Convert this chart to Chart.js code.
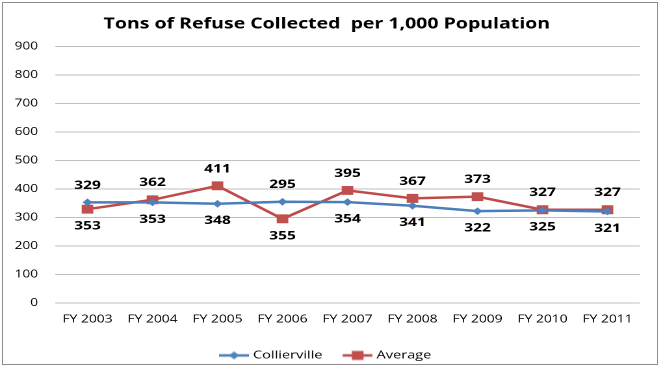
<!DOCTYPE html>
<html>
<head>
<meta charset="utf-8">
<script src="https://cdn.jsdelivr.net/npm/chart.js@4/dist/chart.umd.min.js"></script>
<style>
  html, body { margin: 0; padding: 0; background: #fff; overflow: hidden; width: 660px; height: 366px; }
  #wrap { position: relative; width: 660px; height: 366px; overflow: hidden; }
  #c { position: absolute; left: 0; top: 0; transform: scaleX(1.3); transform-origin: 0 0; }
  #frame { position: absolute; left: 2px; top: 2px; width: 654px; height: 361px; border: 1px solid #8c8c8c; pointer-events: none; }
</style>
</head>
<body>
<div id="wrap">
  <canvas id="c" width="508" height="371"></canvas>
  <div id="frame"></div>
</div>
<script>
const chartTitle = 'Tons of Refuse Collected  per 1,000 Population';
const categories = ['FY 2003', 'FY 2004', 'FY 2005', 'FY 2006', 'FY 2007', 'FY 2008', 'FY 2009', 'FY 2010', 'FY 2011'];
const collierville = [353, 353, 348, 355, 354, 341, 322, 325, 321];
const average = [329, 362, 411, 295, 395, 367, 373, 327, 327];
const yTicks = [0, 100, 200, 300, 400, 500, 600, 700, 800, 900];

const FONT = '"Open Sans", "DejaVu Sans", sans-serif';
const BLUE_LINE = '#4A7EBB', BLUE_MARK = '#4F81BD';
const RED_LINE = '#BE4B48', RED_MARK = '#C0504D';

function legendIcon(lineColor, markColor, style) {
  const cv = document.createElement('canvas');
  cv.width = 23; cv.height = 12;
  const g = cv.getContext('2d');
  g.strokeStyle = lineColor; g.lineWidth = 2.5;
  g.beginPath(); g.moveTo(0, 6); g.lineTo(23, 6); g.stroke();
  g.fillStyle = markColor;
  if (style === 'diamond') {
    g.beginPath(); g.moveTo(11.5, 2); g.lineTo(15.2, 6); g.lineTo(11.5, 10); g.lineTo(7.8, 6); g.closePath(); g.fill();
  } else {
    g.fillRect(7, 1.5, 9, 9);
  }
  return cv;
}
const icons = [legendIcon(BLUE_LINE, BLUE_MARK, 'diamond'), legendIcon(RED_LINE, RED_MARK, 'square')];

const labelPlugin = {
  id: 'pointLabels',
  afterDatasetsDraw(chart) {
    const ctx = chart.ctx;
    const m0 = chart.getDatasetMeta(0), m1 = chart.getDatasetMeta(1);
    ctx.save();
    ctx.font = 'bold 12px ' + FONT;
    ctx.fillStyle = '#000';
    ctx.textAlign = 'center';
    ctx.textBaseline = 'middle';
    categories.forEach((c, i) => {
      const p0 = m0.data[i], p1 = m1.data[i];
      const top = Math.min(p0.y, p1.y), bottom = Math.max(p0.y, p1.y);
      ctx.fillText(String(chart.data.datasets[1].data[i]), p1.x, top - 17);
      ctx.fillText(String(chart.data.datasets[0].data[i]), p0.x, bottom + 17);
    });
    ctx.restore();
  }
};

new Chart(document.getElementById('c'), {
  type: 'line',
  data: {
    labels: categories,
    datasets: [
      { label: 'Collierville', data: collierville, borderColor: BLUE_LINE, backgroundColor: BLUE_MARK,
        borderWidth: 2.5, pointStyle: 'rectRot', pointRadius: 3.8, pointBackgroundColor: BLUE_MARK,
        pointBorderColor: BLUE_MARK, pointBorderWidth: 0, tension: 0 },
      { label: 'Average', data: average, borderColor: RED_LINE, backgroundColor: RED_MARK,
        borderWidth: 2.5, pointStyle: 'rect', pointRadius: 6.3, pointBackgroundColor: RED_MARK,
        pointBorderColor: RED_MARK, pointBorderWidth: 0, tension: 0 }
    ]
  },
  options: {
    responsive: false,
    animation: false,
    devicePixelRatio: 2,
    layout: { padding: { left: 10.5, right: 15.7, top: 0, bottom: 0 } },
    plugins: {
      title: { display: true, text: chartTitle, color: '#000',
        font: { family: FONT, size: 15, weight: 'bold' }, padding: { top: 15, bottom: 13.7 } },
      legend: {
        position: 'bottom',
        labels: {
          color: '#000', font: { family: FONT, size: 11.2 },
          usePointStyle: true, pointStyleWidth: 18, padding: 18,
          generateLabels(chart) {
            const items = Chart.defaults.plugins.legend.labels.generateLabels(chart);
            items.forEach((it, i) => { it.pointStyle = icons[i]; });
            return items;
          }
        }
      },
      tooltip: { enabled: false }
    },
    scales: {
      x: {
        offset: true,
        grid: { display: false, drawTicks: false },
        border: { display: false },
        ticks: { color: '#000', font: { family: FONT, size: 10.7 }, padding: 10, maxRotation: 0, autoSkip: false },
        afterFit(scale) { scale.height = 29; }
      },
      y: {
        min: 0, max: 900,
        afterBuildTicks(scale) { scale.ticks = yTicks.map(v => ({ value: v })); },
        grid: { color: '#BEBEBE', lineWidth: 1, drawTicks: false },
        border: { display: false },
        ticks: { color: '#000', font: { family: FONT, size: 10.5 }, padding: 13 },
        afterFit(scale) { scale.width = 31.8; }
      }
    }
  },
  plugins: [labelPlugin]
});
</script>
</body>
</html>
